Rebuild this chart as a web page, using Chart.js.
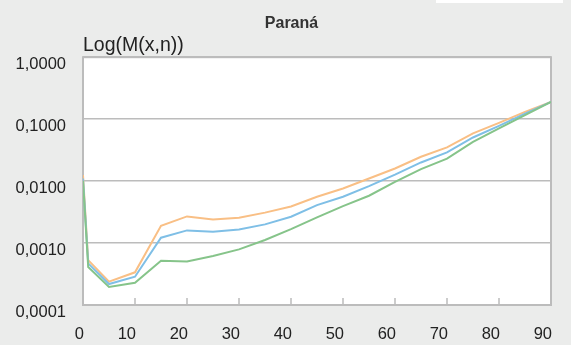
<!DOCTYPE html>
<html>
<head>
<meta charset="utf-8">
<script src="https://cdn.jsdelivr.net/npm/chart.js@4/dist/chart.umd.min.js"></script>
<style>
    body { margin: 0; background: #ebeceb; }
    #wrap { position: relative; width: 571px; height: 345px; background: #ebeceb; }
    #legendStub { position: absolute; left: 436px; top: 0; width: 127px; height: 3px; background: #fff; }
</style>
</head>
<body>
<div id="wrap">
    <canvas id="mortalityChart"></canvas>
    <div id="legendStub"></div>
</div>
<script>
// Age-specific mortality M(x,n), Paraná, log scale

const ages = [0, 1, 5, 10, 15, 20, 25, 30, 35, 40, 45, 50, 55, 60, 65, 70, 75, 80, 85, 90];

const seriesOrange = [0.0125, 0.00053, 0.000238, 0.000337, 0.0019, 0.00269, 0.00241, 0.00257, 0.0031, 0.0039,
    0.0056, 0.0076, 0.0110, 0.016, 0.0247, 0.035, 0.0588, 0.087, 0.131, 0.19];
const seriesBlue = [0.011, 0.00047, 0.000218, 0.000286, 0.00122, 0.0016, 0.00152, 0.00166, 0.0020, 0.00266,
    0.0041, 0.00559, 0.0083, 0.0127, 0.020, 0.029, 0.0506, 0.078, 0.123, 0.19];
const seriesGreen = [0.0101, 0.00041, 0.000195, 0.000229, 0.00052, 0.000506, 0.00062, 0.00079, 0.00112, 0.00168,
    0.0026, 0.00395, 0.0058, 0.0097, 0.0156, 0.023, 0.043, 0.0708, 0.116, 0.19];

const yTicks = [0.0001, 0.001, 0.01, 0.1, 1];
const xTicks = [0, 10, 20, 30, 40, 50, 60, 70, 80, 90];

const FONT = '"Liberation Sans", Arial, Helvetica, sans-serif';
const GRID = '#bcbcbc';

function toPoints(values) {
    return ages.map((age, i) => ({ x: age, y: values[i] }));
}

// white plot area, grey frame, small inward ticks and the axis caption
const plotFrame = {
    id: 'plotFrame',
    beforeDraw(chart) {
        const { ctx, chartArea: a } = chart;
        ctx.save();
        ctx.fillStyle = '#ffffff';
        ctx.fillRect(a.left, a.top, a.right - a.left, a.bottom - a.top);
        ctx.restore();
    },
    beforeDatasetsDraw(chart) {
        const { ctx, chartArea: a } = chart;
        const xScale = chart.scales.x;
        ctx.save();
        ctx.strokeStyle = GRID;
        ctx.lineWidth = 2;
        ctx.strokeRect(a.left, a.top, a.right - a.left, a.bottom - a.top);
        ctx.lineWidth = 1.5;
        ctx.beginPath();
        for (const v of xTicks.slice(1, -1)) {
            const px = xScale.getPixelForValue(v);
            ctx.moveTo(px, a.bottom);
            ctx.lineTo(px, a.bottom - 7);
        }
        ctx.stroke();
        ctx.fillStyle = '#222';
        ctx.font = '19.5px ' + FONT;
        ctx.textAlign = 'left';
        ctx.textBaseline = 'alphabetic';
        ctx.fillText('Log(M(x,n))', a.left, a.top - 6);
        ctx.restore();
    }
};

new Chart(document.getElementById('mortalityChart'), {
    type: 'line',
    data: {
        datasets: [
            { label: 'Série 3', data: toPoints(seriesGreen), borderColor: '#86c48a' },
            { label: 'Série 2', data: toPoints(seriesBlue), borderColor: '#7fbfe6' },
            { label: 'Série 1', data: toPoints(seriesOrange), borderColor: '#f9bf85' }
        ]
    },
    options: {
        responsive: true,
        maintainAspectRatio: false,
        animation: false,
        layout: { padding: { left: 12, right: 0, top: 0, bottom: 0 } },
        elements: {
            line: { borderWidth: 2, tension: 0 },
            point: { radius: 0 }
        },
        scales: {
            x: {
                type: 'linear',
                min: 0,
                max: 90,
                afterBuildTicks: scale => { scale.ticks = xTicks.map(v => ({ value: v })); },
                afterFit: scale => { scale.height = 40; },
                grid: { display: false, drawTicks: false },
                border: { display: false },
                ticks: {
                    align: 'end',
                    labelOffset: 1,
                    padding: 20,
                    color: '#222',
                    font: { family: FONT, size: 16.5 }
                }
            },
            y: {
                type: 'logarithmic',
                min: 0.0001,
                max: 1,
                afterBuildTicks: scale => { scale.ticks = yTicks.map(v => ({ value: v })); },
                afterFit: scale => { scale.width = 71; },
                grid: { color: GRID, lineWidth: 1.5, drawTicks: false },
                border: { display: false },
                ticks: {
                    padding: 17,
                    labelOffset: 7,
                    color: '#222',
                    font: { family: FONT, size: 16.5 },
                    callback: v => Number(v).toFixed(4).replace('.', ',')
                }
            },
            // empty right margin so the title stays centred on the whole figure
            yRight: {
                position: 'right',
                afterFit: scale => { scale.width = 13; },
                grid: { display: false, drawTicks: false },
                border: { display: false },
                ticks: { display: false }
            }
        },
        plugins: {
            legend: { display: false },
            tooltip: { enabled: false },
            title: {
                display: true,
                text: 'Paraná',
                color: '#333',
                font: { family: FONT, size: 16, weight: 'bold' },
                padding: { top: 14, bottom: 24 }
            }
        }
    },
    plugins: [plotFrame]
});
</script>
</body>
</html>
